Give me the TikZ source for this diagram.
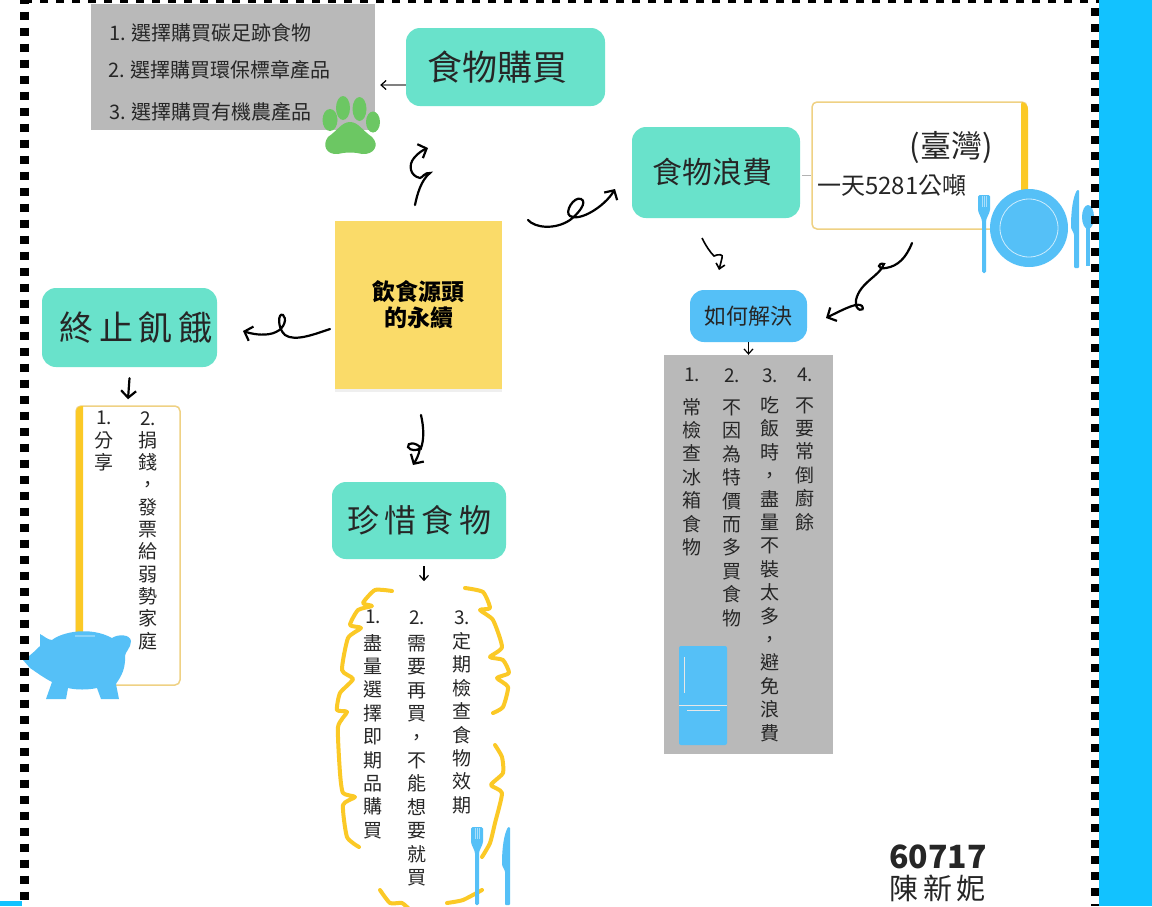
\documentclass[tikz,border=0pt]{standalone}
\usepackage{fontspec}
\setmainfont{Noto Sans CJK TC}
\usetikzlibrary{positioning}
\usetikzlibrary{arrows.meta}
\usetikzlibrary{shadows}
\definecolor{tealbox}{HTML}{69E2CB}
\definecolor{skybox}{HTML}{55C0F7}
\definecolor{graybox}{HTML}{B9B9B9}
\definecolor{sunny}{HTML}{FBC926}
\definecolor{paleline}{HTML}{EFD184}
\definecolor{sticky}{HTML}{FADB69}
\definecolor{sidebar}{HTML}{12C2FF}
\definecolor{pawgreen}{HTML}{6CC763}
\definecolor{ink}{HTML}{262626}
\tikzset{
    mynodet/.style = {rectangle, rounded corners=14pt, fill=tealbox, text=ink, align=center, inner sep=0pt},
    mynodeb/.style = {rectangle, rounded corners=14pt, fill=skybox, text=ink, align=center, inner sep=0pt},
    mynodey/.style = {rectangle, fill=sticky, text=black, align=center, inner sep=0pt, drop shadow={shadow xshift=0pt,shadow yshift=-3pt,opacity=.12}},
    grayn/.style = {rectangle, fill=graybox, inner sep=0pt},
    framen/.style = {rectangle, rounded corners=5pt, draw=paleline, line width=1.5pt, fill=white, inner sep=0pt},
    vcol/.style = {anchor=north, align=center, inner sep=0pt, text=ink, font=\fontsize{19}{23.4}\selectfont},
    textn/.style = {inner sep=0pt, text=ink},
    edgen/.style = {-{Straight Barb[length=5pt,width=9pt,black]},line width=1.2pt,black},
    edgec/.style = {-{Straight Barb[length=7pt,width=15pt]},line width=2.2pt,black,line cap=round},
    curly/.style = {line width=4pt,sunny,line cap=round,line join=round},
    blocks/.style = {line width=8pt,black,dash pattern=on 8pt off 8pt},
    pics/forkicon/.style = {code={
        \fill[skybox,rounded corners=1.5pt] (-6,0) -- (6,0) -- (6,16) -- (2,25) -- (2,78) -- (-2,78) -- (-2,25) -- (-6,16) -- cycle;
        \draw[white!50!skybox,thin] (-2,1) -- (-2,12) (0,1) -- (0,12) (2,1) -- (2,12);
    }},
    pics/knifeicon/.style = {code={
        \fill[skybox,rounded corners=1pt] (1,0) .. controls (-3,8) and (-5,20) .. (-5,38) -- (-2,44) -- (-2,78) -- (3,78) -- (3,0) -- cycle;
    }}
}

\begin{document}
\begin{tikzpicture}[x=1pt,y=-1pt]
\useasboundingbox (0,0) rectangle (1152,906);
\clip (0,0) rectangle (1152,906);
\fill[white] (0,0) rectangle (1152,906);
\fill[sidebar] (1099,0) rectangle (1152,906);
\fill[sidebar] (0,901) rectangle (22,906);

\node[grayn, minimum width=284pt, minimum height=126pt] at (233,67) (buylist) {};
\node[mynodet, minimum width=199pt, minimum height=78pt, font=\fontsize{35}{40}\selectfont] at (505.5,67) (buy) {食物購買\hspace{16pt}};
\node[mynodey, minimum width=167pt, minimum height=168pt, font=\fontsize{23}{26}\bfseries\selectfont] at (418.5,305) (source) {飲食源頭\\的永續};
\node[mynodet, minimum width=168pt, minimum height=91pt, font=\fontsize{30}{40}\selectfont] at (716,172.5) (waste) {食物浪費\hspace{8pt}};
\node[framen, minimum width=215pt, minimum height=127pt] at (919.5,165.5) (wastefact) {};
\node[mynodeb, minimum width=117pt, minimum height=52pt, font=\fontsize{22}{28}\selectfont] at (748.5,316) (solve) {如何解決};
\node[grayn, minimum width=169pt, minimum height=399pt] at (748.5,554.5) (solvelist) {};
\node[mynodet, minimum width=175pt, minimum height=79pt, font=\fontsize{34}{42}\selectfont] at (129.5,327.5) (hunger) {\hspace*{13pt}終\,止\,飢\,餓};
\node[framen, minimum width=104pt, minimum height=279pt] at (128,545.5) (hungerlist) {};
\node[mynodet, minimum width=174pt, minimum height=77pt, font=\fontsize{32}{40}\selectfont] at (419,520.5) (cherish) {珍\,惜\,食\,物};

% list in the top box
\node[textn, anchor=west, font=\fontsize{20}{24}\selectfont] at (109,33) (buy1) {1. 選擇購買碳足跡食物};
\node[textn, anchor=west, font=\fontsize{20}{24}\selectfont] at (108,70) (buy2) {2. 選擇購買環保標章產品};
\node[textn, anchor=west, font=\fontsize{20}{24}\selectfont] at (109,112) (buy3) {3. 選擇購買有機農產品};

% waste box
\fill[sunny] (1021,104) -- (1022,102) .. controls (1026,103) and (1028,106) .. (1028,110) -- (1028,195) -- (1021,195) -- cycle;
\node[textn, font=\fontsize{31}{34}\selectfont] at (951,147) (taiwan) {(臺灣)};
\node[textn, anchor=west, font=\fontsize{24}{28}\selectfont] at (817,185) (amount) {一天5281公噸};

% columns in the right box
\node[vcol] at (692,368) (sol1) {1.\\[9pt]常\\檢\\查\\冰\\箱\\食\\物};
\node[vcol] at (732,368) (sol2) {2.\\[9pt]不\\因\\為\\特\\價\\而\\多\\買\\食\\物};
\node[vcol] at (770,368) (sol3) {3.\\[7pt]吃\\飯\\時\\，\\盡\\量\\不\\裝\\太\\多\\，\\避\\免\\浪\\費};
\node[vcol] at (805,368) (sol4) {4.\\[7pt]不\\要\\常\\倒\\廚\\餘};

% columns in the left box
\node[vcol, font=\fontsize{19}{22.3}\selectfont] at (104,411) (hun1) {1.\\分\\享};
\node[vcol, font=\fontsize{19}{22.3}\selectfont] at (148,411) (hun2) {2.\\捐\\錢\\，\\發\\票\\給\\弱\\勢\\家\\庭};

% columns under the bottom box
\node[vcol] at (373,610) (che1) {1.\\[3pt]盡\\量\\選\\擇\\即\\期\\品\\購\\買};
\node[vcol] at (417,610) (che2) {2.\\[3pt]需\\要\\再\\買\\，\\不\\能\\想\\要\\就\\買};
\node[vcol] at (462,610) (che3) {3.\\[1pt]定\\期\\檢\\查\\食\\物\\效\\期};

\node[inner sep=0pt, anchor=west, text=ink, font=\fontsize{32}{38}\bfseries\selectfont] at (889,857) (idnum) {60717};
\node[inner sep=0pt, anchor=west, text=ink, font=\fontsize{29}{34}\selectfont] at (889,888) (author) {陳\,新\,妮};

% connectors
\coordinate (upa) at (415,205);
\coordinate (upb) at (428,148);
\coordinate (rta) at (528,220);
\coordinate (rtb) at (615,189);
\coordinate (lfa) at (330,329);
\coordinate (lfb) at (243,331);
\coordinate (dna) at (421,415);
\coordinate (dnb) at (413,465);
\coordinate (wsa) at (702,238);
\coordinate (wsb) at (719,270);
\coordinate (fca) at (912,243);
\coordinate (fcb) at (826,318);

\draw[edgec] (upa) .. controls (417,195) and (421,180) .. (430,173) .. controls (425,172) and (422,178) .. (420,178) .. controls (410,176) and (408,165) .. (414,158) .. controls (418,153) and (423,150) .. (upb);
\draw[edgec] (rta) .. controls (535,228) and (555,230) .. (570,220) .. controls (578,214) and (588,202) .. (581,199) .. controls (574,196) and (564,212) .. (570,216) .. controls (580,222) and (605,206) .. (rtb);
\draw[edgec] (lfa) .. controls (315,334) and (295,342) .. (285,335) .. controls (277,328) and (278,312) .. (283,315) .. controls (287,318) and (285,328) .. (276,332) .. controls (268,336) and (255,335) .. (lfb);
\draw[edgec] (dna) .. controls (424,428) and (424,440) .. (421,448) .. controls (416,442) and (407,442) .. (408,447) .. controls (410,451) and (418,451) .. (420,448) .. controls (419,455) and (416,460) .. (dnb);
\draw[edgen, line width=1.6pt] (wsa) .. controls (706,246) and (710,252) .. (714,256) .. controls (718,254) and (724,254) .. (722,258) .. controls (721,262) and (720,266) .. (wsb);
\draw[edgec] (fca) .. controls (906,258) and (898,266) .. (886,268) .. controls (876,270) and (878,262) .. (884,264) .. controls (880,276) and (860,282) .. (856,300) .. controls (854,312) and (866,312) .. (862,306) .. controls (858,302) and (846,308) .. (fcb);
\draw[edgen, gray] ([yshift=-18pt]buy.west) -- ([xshift=5pt,yshift=-18pt]buylist.east);
\draw[gray!60, thick] ([xshift=2pt,yshift=-2.5pt]waste.east) -- ([yshift=-9.5pt]wastefact.west);
\draw[edgen] (solve.south) -- (solvelist.north);
\draw[edgec] ([yshift=-11pt]hunger.south) -- ([yshift=6pt]hungerlist.north);
\draw[edgen] ([xshift=5pt,yshift=-7pt]cherish.south) -- ([xshift=5pt,yshift=-22pt]cherish.south);

% side bar on the left box
\fill[sunny] (76,412) .. controls (76,408) and (79,406) .. (83,406) -- (83,640) -- (76,640) -- cycle;

% paw
\fill[pawgreen] (350,122) .. controls (358,122) and (362,130) .. (372,137) .. controls (380,145) and (374,155) .. (362,154) .. controls (354,152) and (346,152) .. (338,154) .. controls (326,155) and (322,145) .. (328,137) .. controls (338,130) and (342,122) .. (350,122) -- cycle;
\fill[pawgreen] (330,120) ellipse (7.5 and 11);
\fill[pawgreen] (343,108) ellipse (7 and 12);
\fill[pawgreen] (359.5,109) ellipse (7 and 12);
\fill[pawgreen] (373,122) ellipse (7 and 10.5);

% plate and cutlery
\fill[skybox] (1029,228) circle (39);
\draw[white!70!skybox, thick] (1029,228) circle (29);
\pic at (984,195) {forkicon};
\pic at (1076,190) {knifeicon};
\fill[skybox] (1088,217) ellipse (6 and 12);
\fill[skybox] (1086,217) rectangle (1090,266);

% fridge
\fill[skybox, rounded corners=2pt] (679,646) rectangle (727,745);
\draw[white!65!graybox, thick] (679,705) -- (727,705);
\draw[white!65!graybox, thick] (684.5,657) -- (684.5,693);
\draw[white!65!graybox, thick] (687,710) -- (720,710);

% piggy bank
\fill[skybox] (23,660) .. controls (30,656) and (36,650) .. (40,646) -- (40,634) .. controls (44,636) and (48,640) .. (52,640) .. controls (62,632) and (90,626) .. (112,638) .. controls (118,634) and (130,634) .. (131,641) .. controls (131,648) and (125,652) .. (125,656) .. controls (126,672) and (118,680) .. (116,684) -- (119,699) -- (101,699) -- (97,688) .. controls (88,690) and (76,690) .. (68,688) -- (66,699) -- (46,699) -- (52,682) .. controls (44,678) and (36,672) .. (30,668) -- cycle;
\draw[white!30!skybox, line width=1.5pt] (75,636) -- (95,636);

% yellow braces on the bottom list
\draw[curly] plot[smooth, tension=.35] coordinates {(392,591) (375,590) (363,603) (372,606) (358,610) (350,625) (361,628) (348,638) (342,670) (353,679) (340,693) (337,710) (347,712) (338,727) (340,773) (343,793) (355,797) (343,805) (347,837) (359,847)};
\draw[curly] plot[smooth, tension=.35] coordinates {(465,588) (483,592) (490,608) (480,610) (493,620) (502,647) (490,657) (503,660) (509,673) (497,678) (508,687) (503,707) (493,713)};
\draw[curly] plot[smooth, tension=.35] coordinates {(495,745) (502,757) (503,773) (491,785) (502,793) (495,823) (490,843) (482,857)};
\draw[curly] plot[smooth, tension=.35] coordinates {(380,890) (390,903) (402,903) (410,910)};
\draw[curly] plot[smooth, tension=.35] coordinates {(447,903) (463,900) (482,890)};
\pic at (477,827) {forkicon};
\pic at (507,827) {knifeicon};

% dotted frame
\draw[blocks, dash phase=12pt] (20,-1) -- (1099,-1);
\draw[blocks, line width=9pt, dash phase=4.5pt] (24.5,0) -- (24.5,906);
\draw[blocks, line width=8pt, dash phase=8pt] (1095,0) -- (1095,906);
\end{tikzpicture}
\end{document}
